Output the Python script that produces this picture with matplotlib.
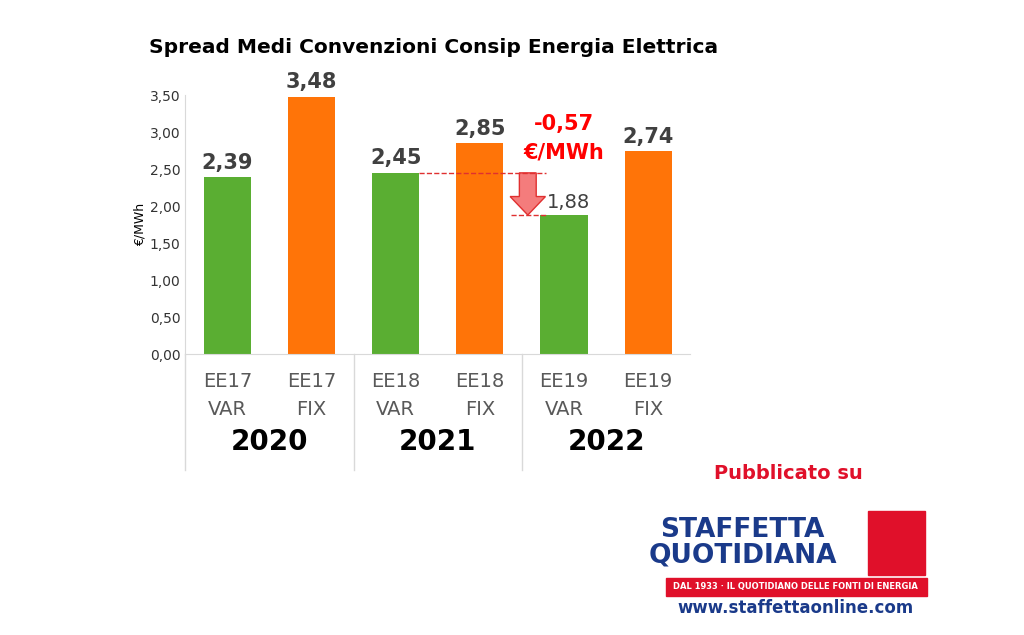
import matplotlib
matplotlib.use("Agg")
import matplotlib.pyplot as plt
from matplotlib.patches import FancyArrow, Rectangle

cats = ["EE17\nVAR", "EE17\nFIX", "EE18\nVAR", "EE18\nFIX", "EE19\nVAR", "EE19\nFIX"]
values = [2.39, 3.48, 2.45, 2.85, 1.88, 2.74]
years = ["2020", "2021", "2022"]
colors = ["#5aae32", "#ff7408"] * 3

fig = plt.figure(figsize=(10.24, 6.35), dpi=100)
ax = fig.add_axes([0.181, 0.4425, 0.493, 0.4075])
x = list(range(len(values)))
ax.bar(x, values, width=0.56, color=colors)
ax.set_xlim(-0.5, 5.5)
ax.set_ylim(0, 3.5)
ax.set_yticks([i * 0.5 for i in range(8)])
ax.set_yticklabels([f"{i*0.5:.2f}".replace(".", ",") for i in range(8)], fontsize=10, color="#333333")
ax.tick_params(axis="y", length=0)
ax.set_xticks([])
for s in ["top", "right"]:
    ax.spines[s].set_visible(False)
ax.spines["left"].set_color("#d9d9d9")
ax.spines["bottom"].set_color("#d9d9d9")
ax.set_ylabel("€/MWh", fontsize=9, labelpad=2)

for xi, v in zip(x, values):
    if xi == 4:
        ax.text(xi + 0.05, v + 0.04, f"{v:.2f}".replace(".", ","), ha="center", va="bottom", fontsize=14, color="#404040")
    else:
        ax.text(xi, v + 0.06, f"{v:.2f}".replace(".", ","), ha="center", va="bottom", fontsize=15, fontweight="bold", color="#404040")

for xi, c in zip(x, cats):
    ax.text(xi, -0.25, c, ha="center", va="top", fontsize=14, color="#595959", linespacing=1.6, clip_on=False)
for i, y in enumerate(years):
    ax.text(2 * i + 0.5, -1.0, y, ha="center", va="top", fontsize=20, fontweight="bold", clip_on=False)
for xs in [-0.5, 1.5, 3.5]:
    ax.plot([xs, xs], [0, -1.57], color="#d9d9d9", lw=1, clip_on=False)

# annotation
ax.plot([2.28, 3.79], [2.45, 2.45], ls="--", color="#e03030", lw=1)
ax.plot([3.37, 3.79], [1.88, 1.88], ls="--", color="#e03030", lw=1)
ax.add_patch(FancyArrow(3.57, 2.45, 0, -0.57, width=0.2, head_width=0.42, head_length=0.25,
                        length_includes_head=True, fc="#f47c7c", ec="#e03030"))
ax.text(4.0, 2.92, "-0,57\n€/MWh", ha="center", va="center", fontsize=15, fontweight="bold", color="#ff0000", linespacing=1.5)

fig.text(0.423, 0.925, "Spread Medi Convenzioni Consip Energia Elettrica", ha="center", va="center",
         fontsize=14.5, fontweight="bold")

# logo
fig.text(0.77, 0.255, "Pubblicato su", ha="center", va="center", fontsize=14, fontweight="bold", color="#e0102a")
fig.text(0.725, 0.145, "STAFFETTA\nQUOTIDIANA", ha="center", va="center", fontsize=19, fontweight="bold",
         color="#1a3a8a", linespacing=0.95)
fig.add_artist(Rectangle((0.848, 0.095), 0.055, 0.1, transform=fig.transFigure, color="#e0102a"))
fig.add_artist(Rectangle((0.65, 0.062), 0.255, 0.028, transform=fig.transFigure, color="#e0102a"))
fig.text(0.777, 0.076, "DAL 1933 · IL QUOTIDIANO DELLE FONTI DI ENERGIA", ha="center", va="center",
         fontsize=6, fontweight="bold", color="white")
fig.text(0.777, 0.043, "www.staffettaonline.com", ha="center", va="center", fontsize=12, fontweight="bold", color="#1a3a8a")

fig.savefig("out.png", dpi=100)
